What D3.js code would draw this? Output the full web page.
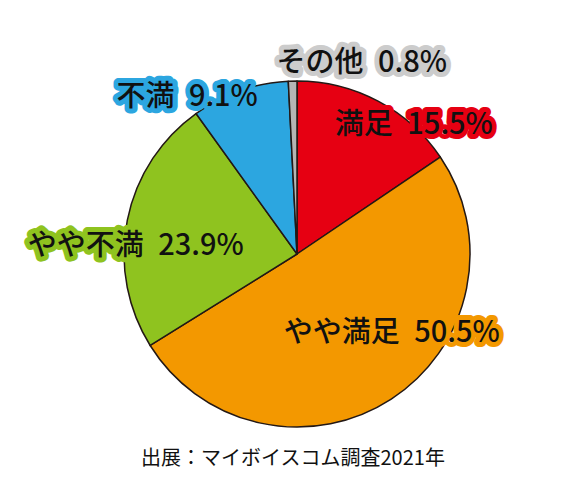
<!DOCTYPE html>
<html>
<head>
<meta charset="utf-8">
<script src="https://cdn.jsdelivr.net/npm/d3@7"></script>
<style>
  body { margin: 0; background: #fff; }
  text { font-family: "Noto Sans CJK JP", "Noto Sans", sans-serif; }
</style>
</head>
<body>
<div id="chart"></div>
<script>
// data
var labels = ["満足", "やや満足", "やや不満", "不満", "その他"];
var values = [15.5, 50.5, 23.9, 9.1, 0.8];
var colors = ["#e60012", "#f39800", "#8fc31f", "#2ca6e0", "#b5b5b5"];
var haloColors = ["#e60012", "#f39800", "#8fc31f", "#2ca6e0", "#cccccc"];
var source = "出展：マイボイスコム調査2021年";

// label nudges from the arc centroid (pixels)
var labelShift = [[56, -16], [24, -31], [-34, 16], [-67, -36], [68, -63]];

var width = 570, height = 480,
    cx = 297, cy = 254, radius = 173;

var svg = d3.select("#chart")
  .append("svg")
    .attr("width", width)
    .attr("height", height);

var g = svg.append("g")
    .attr("transform", "translate(" + cx + "," + cy + ")");

var data = labels.map(function(d, i) {
    return {name: d, value: values[i], color: colors[i], halo: haloColors[i], shift: labelShift[i]};
});

var pie = d3.pie()
    .sort(null)
    .value(function(d) { return d.value; });

var arc = d3.arc()
    .innerRadius(0)
    .outerRadius(radius);

var labelArc = d3.arc()
    .innerRadius(radius * 0.75)
    .outerRadius(radius * 0.75);

var arcs = pie(data);

g.selectAll("path")
    .data(arcs)
    .enter()
    .append("path")
    .attr("d", arc)
    .style("fill", function(d) { return d.data.color; })
    .style("stroke", "#231815")
    .style("stroke-width", 1.5)
    .style("stroke-linejoin", "round");

// labels with coloured halo
var lab = g.selectAll(".lab")
    .data(arcs)
    .enter()
    .append("text")
    .attr("class", "lab")
    .attr("transform", function(d) {
        var c = labelArc.centroid(d);
        return "translate(" + (c[0] + d.data.shift[0]) + "," + (c[1] + d.data.shift[1]) + ")";
    })
    .attr("text-anchor", "middle")
    .attr("dy", "0.36em")
    .style("font-size", "29px")
    .style("font-weight", 500)
    .style("fill", "#111")
    .style("stroke", function(d) { return d.data.halo; })
    .style("stroke-width", 10)
    .style("stroke-linejoin", "round")
    .style("paint-order", "stroke")
    .text(function(d) { return d.data.name + "\u2002" + d.data.value.toFixed(1) + "%"; });

svg.append("text")
    .attr("x", 293)
    .attr("y", 465)
    .attr("text-anchor", "middle")
    .style("font-size", "20px")
    .style("fill", "#111")
    .text(source);
</script>
</body>
</html>
